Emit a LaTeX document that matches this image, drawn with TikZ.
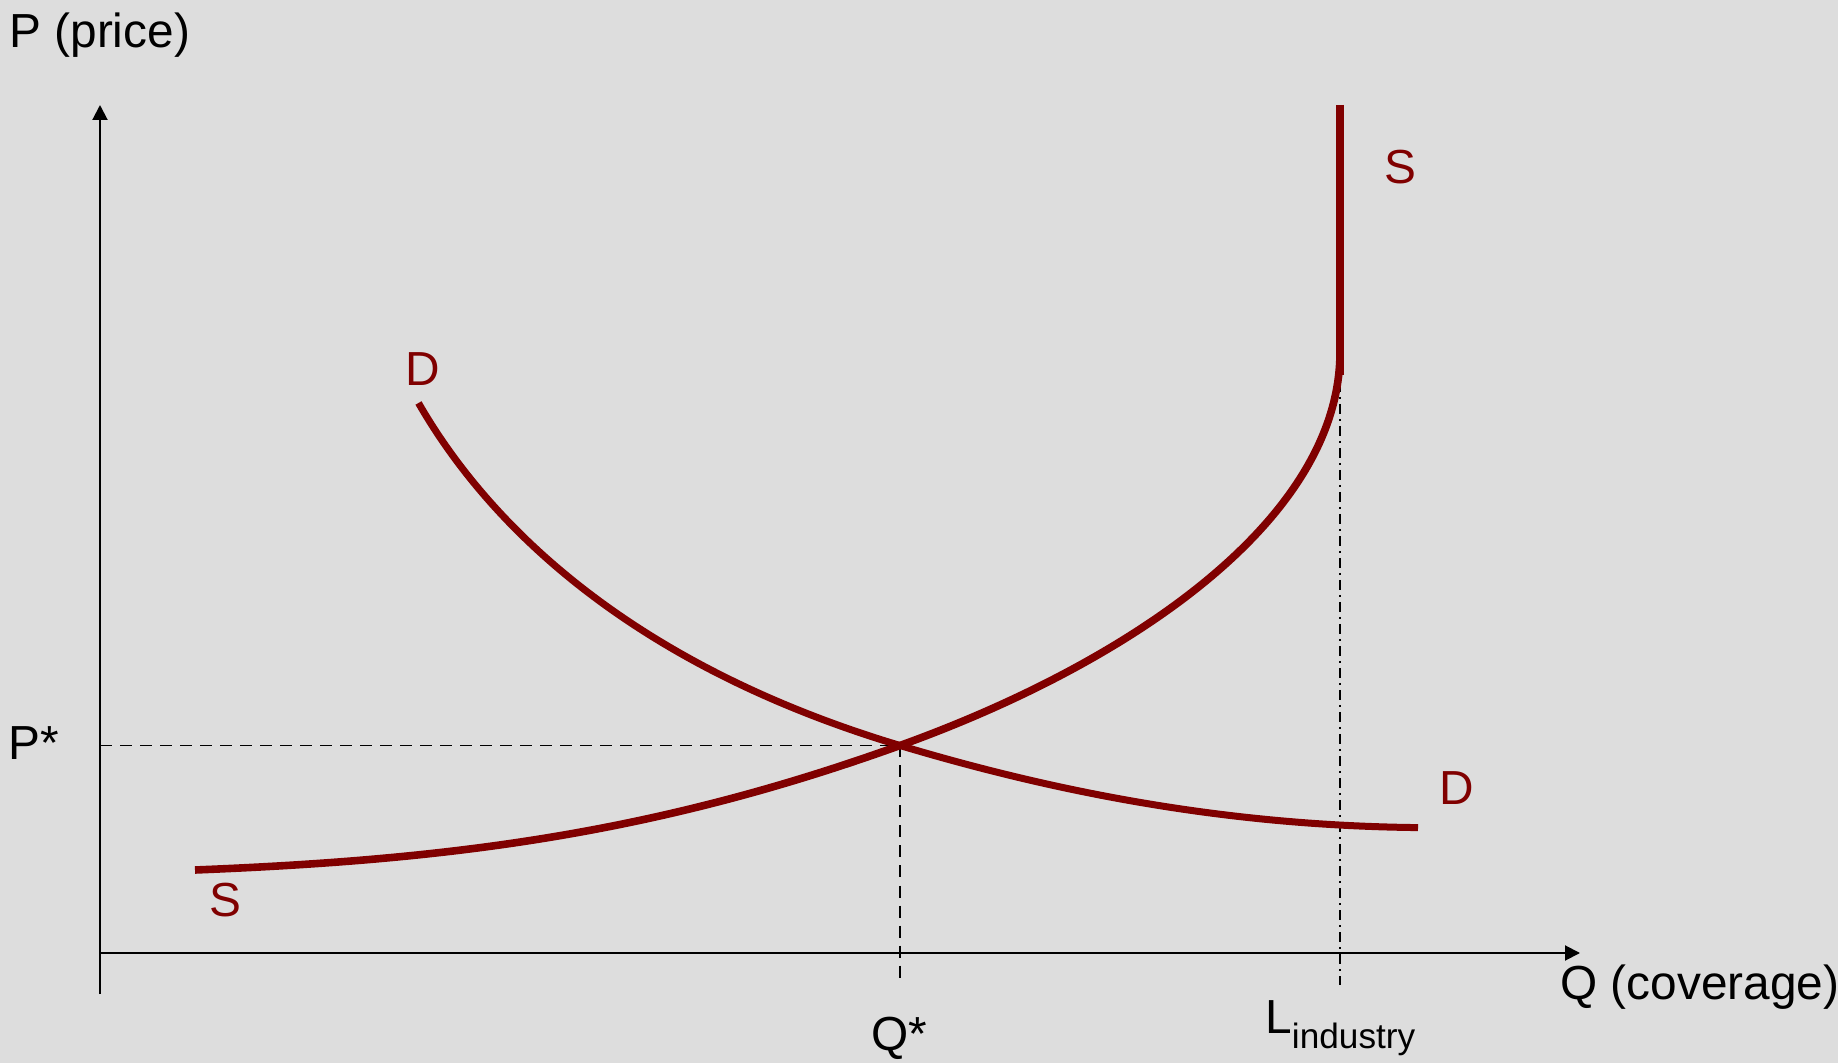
\documentclass[tikz,border=0pt]{standalone}
\usepackage{fontspec}
\setmainfont{Liberation Sans}
\usetikzlibrary{arrows.meta}
\definecolor{bg}{HTML}{DDDDDD}
\definecolor{curve}{HTML}{800000}
\begin{document}
\begin{tikzpicture}[x=0.5pt,y=-0.5pt,
  axis/.style={line width=1pt,-{Triangle[width=7.5pt,length=7.5pt]}},
  curvestyle/.style={draw=curve,line width=3.5pt},
  guide/.style={line width=0.9pt,dash pattern=on 6pt off 4pt},
  dashdotguide/.style={line width=0.9pt,dash pattern=on 5pt off 2.5pt on 1pt off 2.5pt},
  lbl/.style={inner sep=0pt,font=\fontsize{23.9}{28}\selectfont},
  redlbl/.style={lbl,text=curve}]
\fill[bg] (0,0) rectangle (1838,1063);
\useasboundingbox (0,0) rectangle (1838,1063);
% axes
\coordinate (ybot) at (100,994);
\coordinate (ytop) at (100,105);
\coordinate (xleft) at (100,953);
\coordinate (xright) at (1580,953);
\draw[axis] (ybot) -- (ytop);
\draw[axis] (xleft) -- (xright);
% key points
\coordinate (E) at (900,745.5);
\coordinate (pstar) at (100,745.5);
\coordinate (qbot) at (900,978);
\coordinate (Ltop) at (1340,360);
\coordinate (Lbot) at (1340,985);
\coordinate (Sstart) at (195,870);
\coordinate (Stop) at (1340,352);
\coordinate (Svtop) at (1340,105);
\coordinate (Svbot) at (1340,375);
\coordinate (Dstart) at (418.5,403);
\coordinate (Dend) at (1418,827.6);
% guides
\draw[guide] (pstar) -- (E);
\draw[guide] (E) -- (qbot);
\draw[dashdotguide] (Ltop) -- (Lbot);
% supply
\draw[curvestyle,line width=3.8pt] (Sstart) .. controls (445,860) and (650,835.5) .. (E)
  .. controls (1130,662.7) and (1340,520) .. (Stop);
\draw[draw=curve,line width=4pt] (Svtop) -- (Svbot);
% demand
\draw[curvestyle] (Dstart) .. controls (483.5,516) and (620,661.5) .. (E)
  .. controls (1100,805.5) and (1268,826) .. (Dend);
% labels
\node[lbl,anchor=base west] (ptitle) at (9,48) {P (price)};
\node[lbl,anchor=base west] (plabel) at (8,760) {P*};
\node[lbl,anchor=base] (qlabel) at (899,1050) {Q*};
\node[lbl,anchor=base west] (qtitle) at (1560,999) {Q (coverage)};
\node[lbl,anchor=base west] (llabel) at (1265,1033) {L\raisebox{-7.5pt}{\fontsize{17.6}{20}\selectfont industry}};
\node[redlbl,anchor=base] (d1) at (423,386) {D};
\node[redlbl,anchor=base] (d2) at (1457,805) {D};
\node[redlbl,anchor=base] (s1) at (1400,184) {S};
\node[redlbl,anchor=base] (s2) at (225,916) {S};
\end{tikzpicture}
\end{document}
